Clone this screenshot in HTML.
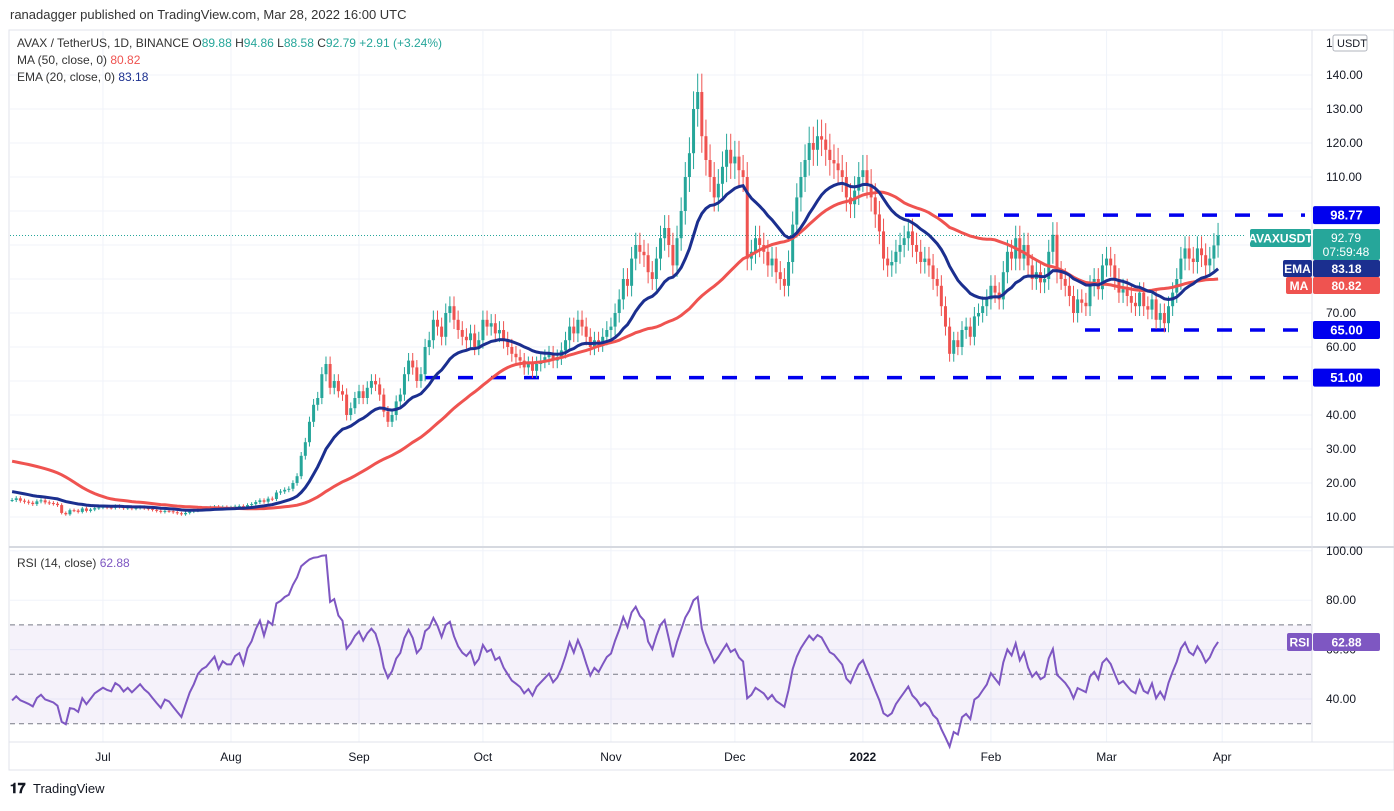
<!DOCTYPE html>
<html><head><meta charset="utf-8"><style>
html,body{margin:0;padding:0;background:#fff;}
svg text{font-family:"Liberation Sans",sans-serif;}
</style></head><body>
<svg id="chart" width="1394" height="806" xmlns="http://www.w3.org/2000/svg">
<rect x="0" y="0" width="1394" height="806" fill="#fff"/>
<text x="10" y="19" font-size="13" fill="#333">ranadagger published on TradingView.com, Mar 28, 2022 16:00 UTC</text>
<rect x="9" y="30" width="1385" height="740" fill="none" stroke="#e0e3eb"/>
<g id="grid"></g>
<g id="rsibg"></g>
<g id="levels"></g>
<g id="candles"></g>
<g id="lines"></g>
<g id="axes"></g>
<g id="legend">
<text x="17" y="47" font-size="12" fill="#333">AVAX / TetherUS, 1D, BINANCE <tspan fill="#333">O</tspan><tspan fill="#26a69a">89.88</tspan> <tspan fill="#333">H</tspan><tspan fill="#26a69a">94.86</tspan> <tspan fill="#333">L</tspan><tspan fill="#26a69a">88.58</tspan> <tspan fill="#333">C</tspan><tspan fill="#26a69a">92.79</tspan> <tspan fill="#26a69a">+2.91 (+3.24%)</tspan></text>
<text x="17" y="64" font-size="12" fill="#333">MA (50, close, 0) <tspan fill="#ef5350">80.82</tspan></text>
<text x="17" y="81" font-size="12" fill="#333">EMA (20, close, 0) <tspan fill="#1b2f8f">83.18</tspan></text>
<text x="17" y="567" font-size="12" fill="#333">RSI (14, close) <tspan fill="#7e57c2">62.88</tspan></text>
</g>
<g>
<text x="10" y="793" font-size="14" font-weight="bold" fill="#131722">𝟏𝟕</text>
<text x="33" y="793" font-size="13" fill="#131722">TradingView</text>
</g>
</svg>
<script>
const warmup=[26,27,28,27,26,28,30,31,30,32,34,37,40,44,48,50,52,49,46,43,40,36,34,31,27,24,21,18,20,21,19,18,17,19,20,19,18,16,17,18,17,16,15,14,15,16,15,14,15,14];
const closesJun=[15,15.5,14.8,14.5,14.2,13.8,14.6,14.9,14.3,14.1,13.9,13.5,11.2,10.8,12.0,11.9,11.5,12.5,11.8,12.2,12.6,12.8];
const closesJul=[13,12.8,12.7,13.2,13.0,12.6,12.8,12.5,12.7,12.9,12.6,12.4,12.1,11.8,11.5,11.8,11.7,11.4,11.1,10.8,11.2,11.6,11.9,12.3,12.5,12.6,12.8,13.0,12.6,12.9,12.8];
const closesAug=[12.8,13.1,13.2,12.9,13.5,13.8,14.4,14.9,14.5,15.4,15.3,17.2,17.5,18,18.3,20,22,28,32,38,43,45,52,55,48,50,47,46,40,42,45];
const closesSep=[47,45,48,50,49,46,41,38,40,44,46,52,56,54,50,52,60,62,68,66,63,70,72,68,65,63,62,64,60,62];
const closesOct=[68,66,67,64,65,62,60,58,57,56,54,55,53,55,56,57,58,56,57,59,62,66,64,68,66,63,60,62,61,63,65];
const closesNov=[66,70,74,80,78,86,90,88,87,82,80,86,92,95,90,84,92,100,110,117,130,135,122,115,110,104,108,113,118,114];
const closesDec=[116,112,110,86,88,92,90,88,84,86,82,80,78,85,96,104,110,115,120,118,122,121,118,115,114,112,110,104,102,106,110];
const closesJan=[112,108,104,99,94,86,84,85,88,90,92,94,90,88,85,86,84,80,78,72,66,58,62,60,65,66,63,69,70,72,74];
const closesFeb=[78,76,74,82,88,86,92,86,90,84,80,82,79,80,88,93,82,80,78,75,70,74,73,72,78,80,77,84];
const closesMar=[86,84,80,76,77,75,73,72,76,72,71,74,68,70,67,72,76,80,86,89,86,85,89,87,84,86,89.88,92.79];
const priceTicks=[10,20,30,40,50,60,70,80,90,100,110,120,130,140];
const rsiTicks=[40,60,80,100];
const months=["Jul","Aug","Sep","Oct","Nov","Dec","2022","Feb","Mar","Apr"];
const monthDayIdx=[22,53,84,114,145,175,206,237,265,293];
const levels=[98.77,65,51];
const levelStart=[905,1085,425];

const closes=[].concat(closesJun,closesJul,closesAug,closesSep,closesOct,closesNov,closesDec,closesJan,closesFeb,closesMar);
const all=warmup.concat(closes);
const NS="http://www.w3.org/2000/svg";
function el(tag,attrs,parent,txt){const e=document.createElementNS(NS,tag);for(const k in attrs)e.setAttribute(k,attrs[k]);if(txt!==undefined)e.textContent=txt;parent.appendChild(e);return e;}
const py=p=>517-(p-10)*3.4;
const ry=v=>699-(v-40)*2.47;
const xi=i=>12.1+i*4.13;
const G=id=>document.getElementById(id);

const grid=G('grid');
priceTicks.forEach(t=>{const l=el('line',{x1:10,x2:1312,y1:py(t),y2:py(t),stroke:'#f0f3fa'},grid);

});
monthDayIdx.forEach(d=>{const l=el('line',{x1:xi(d),x2:xi(d),y1:31,y2:742,stroke:'#f0f3fa'},grid);

});
rsiTicks.forEach(t=>{const l=el('line',{x1:10,x2:1312,y1:ry(t),y2:ry(t),stroke:'#f0f3fa'},grid);

});
el('line',{x1:9,x2:1394,y1:547,y2:547,stroke:'#d6d9e0',"stroke-width":2},grid);
el('line',{x1:9,x2:1394,y1:742,y2:742,stroke:'#e0e3eb'},grid);
el('line',{x1:1312,x2:1312,y1:30,y2:742,stroke:'#e0e3eb'},grid);

const rb=G('rsibg');
const band=el('rect',{x:10,y:ry(70),width:1302,height:ry(30)-ry(70),fill:'#7e57c2','fill-opacity':0.08},rb);


[70,50,30].forEach(v=>{const l=el('line',{x1:10,x2:1312,y1:ry(v),y2:ry(v),stroke:'#787b86','stroke-dasharray':'5 4','stroke-width':1},rb);

});

const lv=G('levels');
const dl=el('line',{x1:10,x2:1245,y1:py(92.79),y2:py(92.79),stroke:'#26a69a','stroke-dasharray':'1 2'},lv);


levels.forEach((v,i)=>{const l=el('line',{x1:levelStart[i],x2:1305,y1:py(v),y2:py(v),stroke:'#0000ee','stroke-width':3.5,'stroke-dasharray':'15 18'},lv);

});

const cg=G('candles');
closes.forEach((c,i)=>{
  const o=i===0?c:closes[i-1];
  const up=c>=o;const col=up?'#26a69a':'#ef5350';
  const hi=Math.max(o,c)*1.04,lo=Math.min(o,c)*0.96;
  const x=xi(i);
  const w=el('line',{x1:x,x2:x,y1:py(hi),y2:py(lo),stroke:col,'stroke-width':1},cg);
  
  
  const t=Math.min(py(o),py(c)),h=Math.max(1,Math.abs(py(o)-py(c)));
  const b=el('rect',{x:x-1.5,y:t,width:3,height:h,fill:col},cg);
  
  
});

const ma=[],ema=[];let e=all[0];
all.forEach((c,i)=>{e=i===0?c:(c*2/21+e*(1-2/21));ema.push(e);
 const s=all.slice(Math.max(0,i-49),i+1);ma.push(s.reduce((a,b)=>a+b,0)/s.length);});
const rsi=[];let ag=0,al=0;
for(let i=1;i<all.length;i++){const d=all[i]-all[i-1];const g=Math.max(d,0),l=Math.max(-d,0);
 if(i<=14){ag+=g/14;al+=l/14;}else{ag=(ag*13+g)/14;al=(al*13+l)/14;}
 rsi[i]=al===0?100:100-100/(1+ag/al);}
const off=warmup.length;
function path(arr,f){let d='';for(let i=0;i<closes.length;i++){d+=(i?'L':'M')+xi(i).toFixed(1)+' '+f(arr[i+off]).toFixed(1);}return d;}
const lg=G('lines');
const maP=el('path',{d:path(ma,py),fill:'none',stroke:'#ef5350','stroke-width':3},lg);


const emP=el('path',{d:path(ema,py),fill:'none',stroke:'#1b2f8f','stroke-width':3},lg);


const rsP=el('path',{d:path(rsi,ry),fill:'none',stroke:'#7e57c2','stroke-width':2},lg);



const ax=G('axes');
priceTicks.forEach(t=>{const tx=el('text',{x:1326,y:py(t)+4,'font-size':12,fill:'#131722'},ax,t.toFixed(2));

});
rsiTicks.forEach(t=>{const tx=el('text',{x:1326,y:ry(t)+4,'font-size':12,fill:'#131722'},ax,t.toFixed(2));

});
months.forEach((m,i)=>{const tx=el('text',{x:xi(monthDayIdx[i]),y:761,'font-size':12,fill:'#131722','text-anchor':'middle','font-weight':m==='2022'?'bold':'normal'},ax,m);

});
el('text',{x:1326,y:47,'font-size':12,fill:'#131722'},ax,'1');
const ub=el('rect',{x:1333,y:35,width:34,height:16,fill:'#fff',stroke:'#b2b5be',rx:2},ax);


el('text',{x:1337,y:47,'font-size':11,fill:'#131722'},ax,'USDT');
function tag(x,y,w,h,fill,txt,name,fs){const r=el('rect',{x:x,y:y,width:w,height:h,fill:fill,rx:2},ax);


el('text',{x:x+w/2,y:y+h/2+4.5,'font-size':fs||13,fill:'#fff','text-anchor':'middle','font-weight':'bold'},ax,txt);}
levels.forEach(v=>tag(1313,py(v)-9,67,18,'#0000ee',v.toFixed(2),'level-label'));
tag(1250,229,61,18,'#26a69a','AVAXUSDT','symbol-tag',12);
const pb=el('rect',{x:1313,y:229,width:67,height:31,fill:'#26a69a',rx:2},ax);


el('text',{x:1346,y:242,'font-size':12,fill:'#fff','text-anchor':'middle'},ax,'92.79');
el('text',{x:1346,y:256,'font-size':12,fill:'#fff','text-anchor':'middle'},ax,'07:59:48');
tag(1283,260,29,17,'#1b2f8f','EMA','ema-tag',12);
tag(1313,260,67,17,'#1b2f8f','83.18','ema-value-tag',12);
tag(1286,277,26,17,'#ef5350','MA','ma-tag',12);
tag(1313,277,67,17,'#ef5350','80.82','ma-value-tag',12);
tag(1287,633,25,18,'#7e57c2','RSI','rsi-tag',12);
tag(1313,633,67,18,'#7e57c2','62.88','rsi-value-tag',12);
</script>
</body></html>
